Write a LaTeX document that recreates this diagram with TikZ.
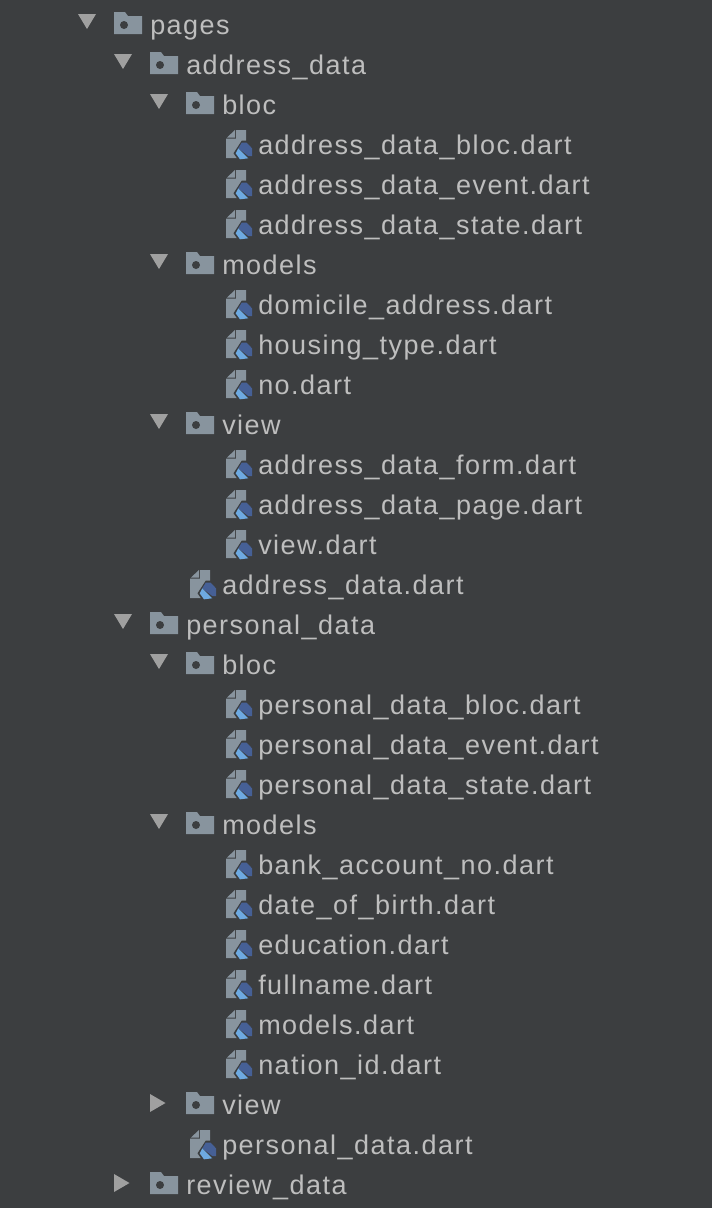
\documentclass[tikz,border=0pt]{standalone}
\usepackage{fontspec}
\setmainfont[LetterSpace=5.5]{Liberation Sans}
\definecolor{panel}{RGB}{60, 62, 64}
\definecolor{label}{RGB}{190, 190, 190}
\definecolor{icon}{RGB}{136, 148, 158}
\definecolor{marker}{RGB}{160, 160, 160}
\definecolor{dartdark}{RGB}{70, 96, 150}
\definecolor{dartlight}{RGB}{110, 170, 225}
\tikzset{
  entry/.style={anchor=base west, inner sep=0pt, yshift=-0.75pt, text=label, font=\fontsize{20.25}{24}\selectfont},
  foldericon/.pic={
    \fill[icon] (0,-13) -- (11,-13) -- (14,-9) -- (28,-9) -- (28,9) -- (0,9) -- cycle;
    \fill[panel] (10,0) circle (3pt);
  },
  fileicon/.pic={
    \fill[icon] (1,-7.5) -- (9,-15) -- (9,-7.5) -- cycle;
    \fill[icon] (10,-15) -- (20,-15) -- (20,13) -- (0,13) -- (0,-6.5) -- (10,-6.5) -- cycle;
    \fill[panel] (15.7,-4.3) -- (21.5,-4.3) -- (28,2.5) -- (28,13) -- (24,16) -- (13,16) -- (7.5,8.3) -- cycle;
    \fill[dartdark] (15.7,-2.3) -- (20.7,-2.3) -- (26,3.3) -- (26,11) -- (22.3,11) -- (12.3,3.3) -- cycle;
    \fill[dartlight] (12.3,3.3) -- (22.3,13.3) -- (14,14.3) -- (9.7,8.3) -- cycle;
  },
  openarrow/.pic={\fill[marker] (0,-11) -- (18,-11) -- (9,4) -- cycle;},
  closedarrow/.pic={\fill[marker] (0,-11) -- (15.5,-2) -- (0,7) -- cycle;}
}
\begin{document}
\begin{tikzpicture}[x=0.75pt, y=-0.75pt]
\fill[panel] (0,0) rectangle (712,1208);
% root folder
\pic at (78,25) {openarrow};
\pic at (114,25) {foldericon};
\node[entry] (pages) at (150,33) {pages};
% address_data
\pic at (114,65) {openarrow};
\pic at (150,65) {foldericon};
\node[entry] (addressdata) at (186,73) {address\_data};
\pic at (150,105) {openarrow};
\pic at (186,105) {foldericon};
\node[entry] (addressbloc) at (222,113) {bloc};
\pic at (226,145) {fileicon};
\node[entry] (addressblocfile) at (258,153) {address\_data\_bloc.dart};
\pic at (226,185) {fileicon};
\node[entry] (addresseventfile) at (258,193) {address\_data\_event.dart};
\pic at (226,225) {fileicon};
\node[entry] (addressstatefile) at (258,233) {address\_data\_state.dart};
\pic at (150,265) {openarrow};
\pic at (186,265) {foldericon};
\node[entry] (addressmodels) at (222,273) {models};
\pic at (226,305) {fileicon};
\node[entry] (domicilefile) at (258,313) {domicile\_address.dart};
\pic at (226,345) {fileicon};
\node[entry] (housingfile) at (258,353) {housing\_type.dart};
\pic at (226,385) {fileicon};
\node[entry] (nofile) at (258,393) {no.dart};
\pic at (150,425) {openarrow};
\pic at (186,425) {foldericon};
\node[entry] (addressview) at (222,433) {view};
\pic at (226,465) {fileicon};
\node[entry] (addressformfile) at (258,473) {address\_data\_form.dart};
\pic at (226,505) {fileicon};
\node[entry] (addresspagefile) at (258,513) {address\_data\_page.dart};
\pic at (226,545) {fileicon};
\node[entry] (viewfile) at (258,553) {view.dart};
\pic at (190,585) {fileicon};
\node[entry] (addressfile) at (222,593) {address\_data.dart};
% personal_data
\pic at (114,625) {openarrow};
\pic at (150,625) {foldericon};
\node[entry] (personaldata) at (186,633) {personal\_data};
\pic at (150,665) {openarrow};
\pic at (186,665) {foldericon};
\node[entry] (personalbloc) at (222,673) {bloc};
\pic at (226,705) {fileicon};
\node[entry] (personalblocfile) at (258,713) {personal\_data\_bloc.dart};
\pic at (226,745) {fileicon};
\node[entry] (personaleventfile) at (258,753) {personal\_data\_event.dart};
\pic at (226,785) {fileicon};
\node[entry] (personalstatefile) at (258,793) {personal\_data\_state.dart};
\pic at (150,825) {openarrow};
\pic at (186,825) {foldericon};
\node[entry] (personalmodels) at (222,833) {models};
\pic at (226,865) {fileicon};
\node[entry] (bankfile) at (258,873) {bank\_account\_no.dart};
\pic at (226,905) {fileicon};
\node[entry] (birthfile) at (258,913) {date\_of\_birth.dart};
\pic at (226,945) {fileicon};
\node[entry] (educationfile) at (258,953) {education.dart};
\pic at (226,985) {fileicon};
\node[entry] (fullnamefile) at (258,993) {fullname.dart};
\pic at (226,1025) {fileicon};
\node[entry] (modelsfile) at (258,1033) {models.dart};
\pic at (226,1065) {fileicon};
\node[entry] (nationfile) at (258,1073) {nation\_id.dart};
\pic at (150,1105) {closedarrow};
\pic at (186,1105) {foldericon};
\node[entry] (personalview) at (222,1113) {view};
\pic at (190,1145) {fileicon};
\node[entry] (personalfile) at (222,1153) {personal\_data.dart};
% review_data
\pic at (114,1185) {closedarrow};
\pic at (150,1185) {foldericon};
\node[entry] (reviewdata) at (186,1193) {review\_data};
\end{tikzpicture}
\end{document}
